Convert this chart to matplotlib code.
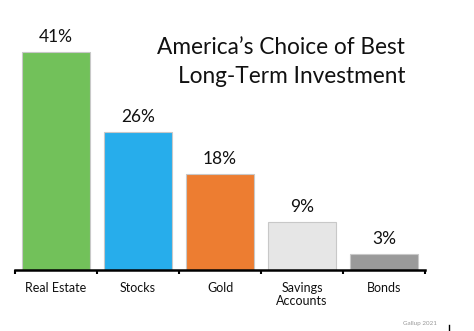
import matplotlib.pyplot as plt
from matplotlib.lines import Line2D

categories = ['Real Estate', 'Stocks', 'Gold', 'Savings\nAccounts', 'Bonds']
values = [41, 26, 18, 9, 3]
colors = ['#72C15A', '#27ADEB', '#ED7D31', '#E6E6E6', '#9A9A9A']
title_lines = ['America\u2019s Choice of Best', 'Long-Term Investment']
source = 'Gallup 2021'

plt.rcParams['font.family'] = ['Lato', 'DejaVu Sans']

fig = plt.figure(figsize=(4.74, 3.31), dpi=100)
W, H = 474, 331
ax = fig.add_axes([15 / W, 1 - 270 / H, 410 / W, (270 - 4) / H])

x = range(len(values))
bars = ax.bar(x, values, width=0.82, color=colors, edgecolor='#C8C8C8', linewidth=0.8)
for b, v in zip(bars, values):
    ax.text(b.get_x() + b.get_width() / 2, v + 1.3, f'{v}%', ha='center', va='bottom',
            fontsize=12.5, color='#111111')

ax.set_xlim(-0.5, len(values) - 0.5)
ax.set_ylim(0, 50)
ax.set_yticks([])
ax.set_xticks([i - 0.5 for i in range(len(values) + 1)])
ax.set_xticklabels([])
ax.set_xticks(list(x), minor=True)
ax.set_xticklabels(categories, minor=True, fontsize=9, color='#111111', linespacing=1.15)
ax.tick_params(axis='x', which='major', length=3, width=1.5, direction='out', color='black')
ax.tick_params(axis='x', which='minor', length=0, pad=8.5)
for s in ['top', 'right', 'left']:
    ax.spines[s].set_visible(False)
ax.spines['bottom'].set_linewidth(1.8)

fig.text(405 / W, 1 - 48 / H, title_lines[0], ha='right', va='center', fontsize=16.3, color='#111111')
fig.text(405 / W, 1 - 77 / H, title_lines[1], ha='right', va='center', fontsize=16.3, color='#111111')
fig.text(437 / W, 1 - 323 / H, source, ha='right', va='center', fontsize=4.5, color='#999999')
fig.add_artist(Line2D([449 / W, 449 / W], [1 - 330 / H, 1 - 325 / H], color='black', linewidth=1))

fig.savefig('out.png', dpi=100)
